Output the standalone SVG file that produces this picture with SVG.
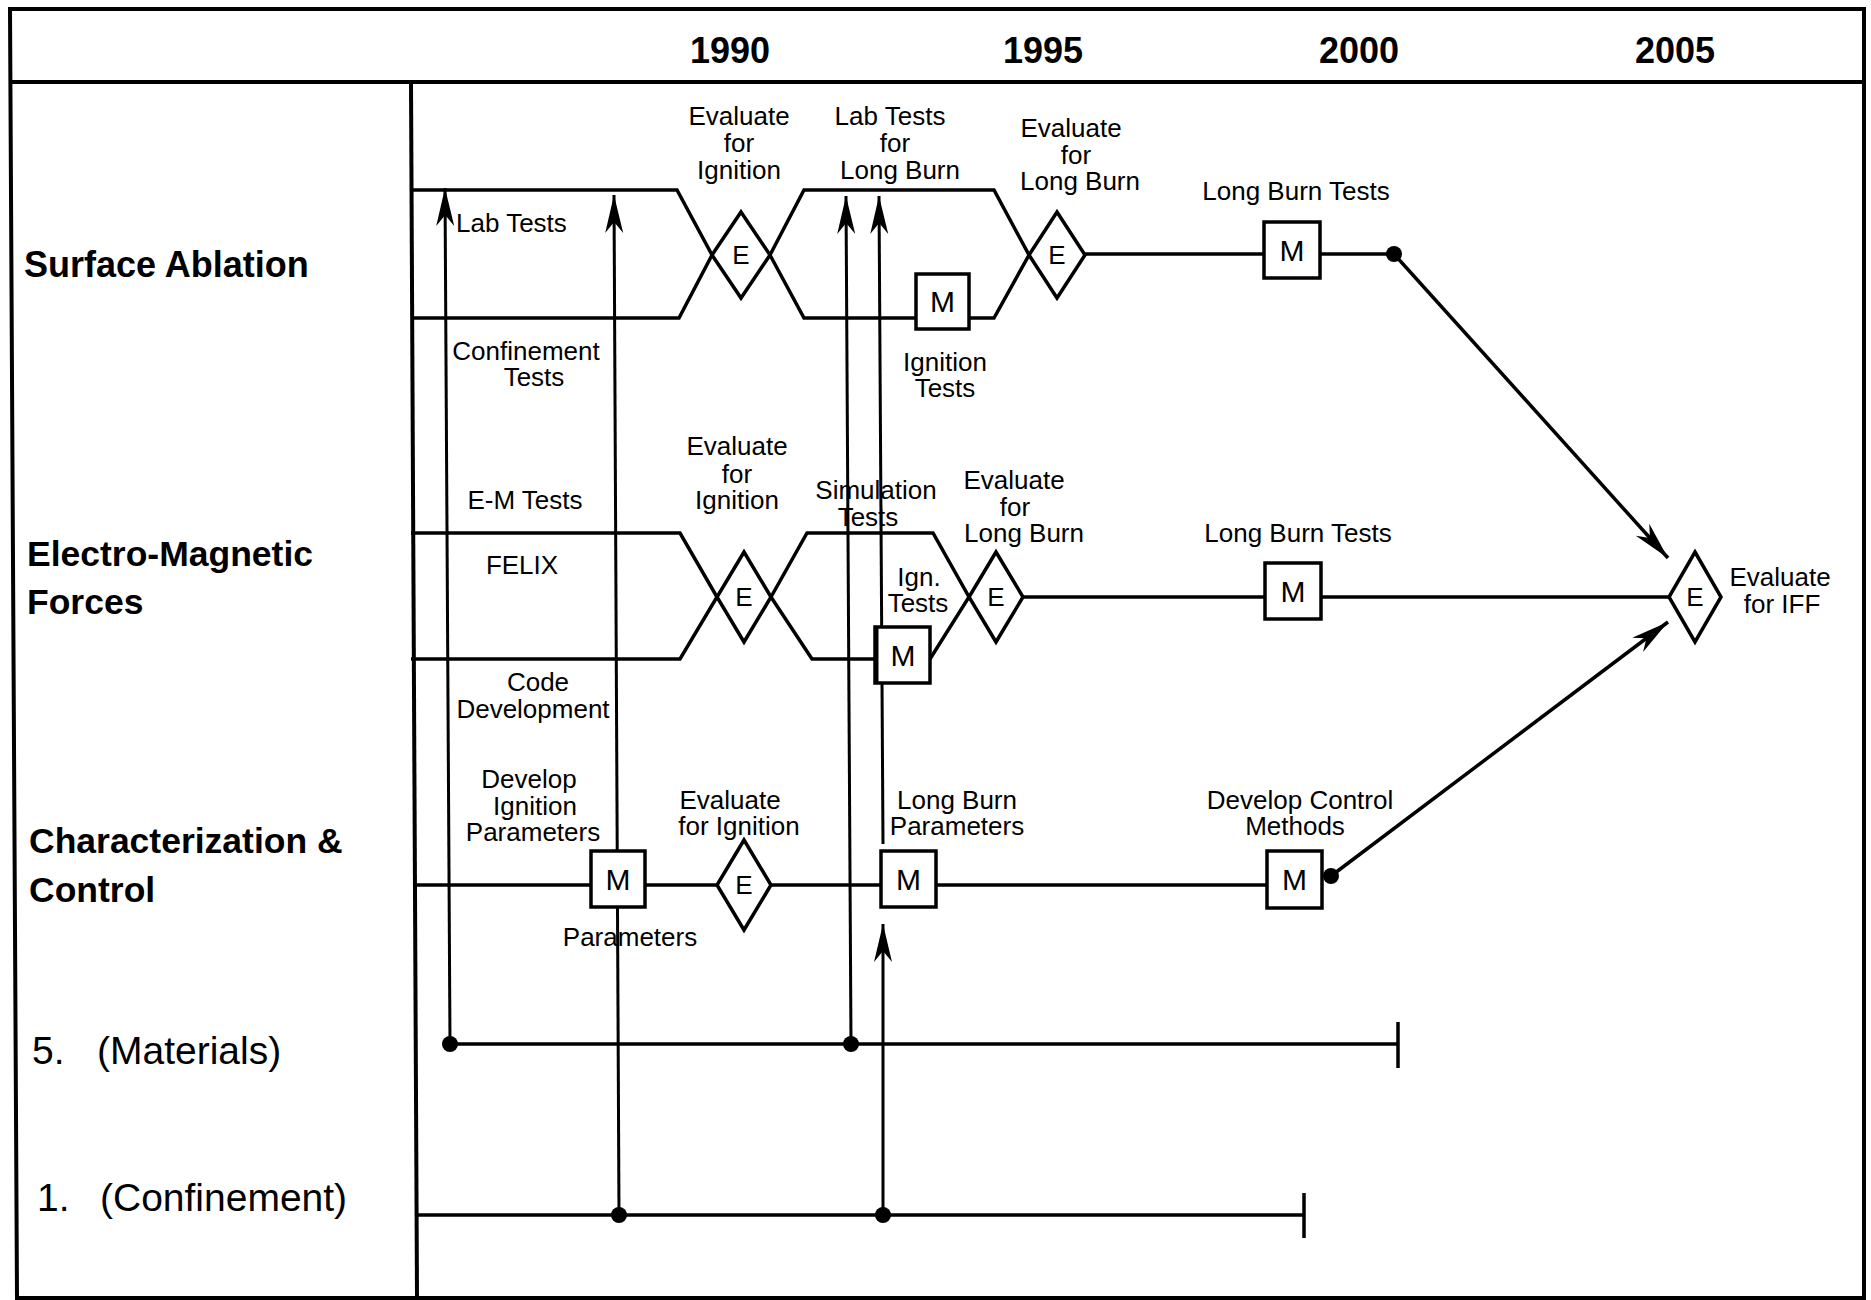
<svg xmlns="http://www.w3.org/2000/svg" width="1871" height="1300" viewBox="0 0 1871 1300">
<style>
text{font-family:"Liberation Sans",Arial,sans-serif;fill:#000}
.yr{font-size:36px;font-weight:bold;text-anchor:middle}
.row{font-size:35.5px;font-weight:bold}
.cat{font-size:39px}
.lbl{font-size:26px;text-anchor:middle}
.st{font-size:26px}
.frame{fill:none;stroke:#000;stroke-width:4}
.trk{fill:none;stroke:#000;stroke-width:3.5;stroke-linejoin:miter}
.vl{fill:none;stroke:#000;stroke-width:3}
.nd{fill:#fff;stroke:#000;stroke-width:3.5}
.ne{font-size:26px;text-anchor:middle}
.nm{font-size:30px;text-anchor:middle}
</style>
<defs>
<marker id="arr" viewBox="-40 -10 42 20" refX="0" refY="0" markerWidth="42" markerHeight="20" markerUnits="userSpaceOnUse" orient="auto">
<path d="M0,0 L-38,-9 L-27,0 L-38,9 Z" fill="#000"/>
</marker>
</defs>
<rect width="1871" height="1300" fill="#fff"/>
<g id="frame">
<path class="frame" d="M10,9 H1864 V1298 H17 Z"/>
<line class="frame" x1="10" y1="82" x2="1864" y2="82"/>
<line class="frame" x1="411" y1="82" x2="417" y2="1298"/>
</g>
<g id="years">
<text class="yr" x="730" y="63">1990</text>
<text class="yr" x="1043" y="63">1995</text>
<text class="yr" x="1359" y="63">2000</text>
<text class="yr" x="1675" y="63">2005</text>
</g>
<g id="rows">
<text class="row" x="24" y="277" style="font-size:36px">Surface Ablation</text>
<text class="row" x="27" y="566">Electro-Magnetic</text>
<text class="row" x="27" y="614">Forces</text>
<text class="row" x="29" y="853">Characterization &amp;</text>
<text class="row" x="29" y="902">Control</text>
<text class="cat" x="32" y="1064">5.</text>
<text class="cat" x="97" y="1064">(Materials)</text>
<text class="cat" x="37" y="1211">1.</text>
<text class="cat" x="100" y="1211">(Confinement)</text>
</g>
<g id="connectors">
<path class="trk" d="M411,190 H677 L712,255 L679,318 H411"/>
<path class="trk" d="M770,255 L804,190 H994 L1029,255 L994,318 H969"/>
<path class="trk" d="M770,255 L804,318 H916"/>
<path class="trk" d="M1085,254 H1264"/>
<path class="trk" d="M1320,254 H1394"/>
<line class="trk" x1="1394" y1="254" x2="1668" y2="558" marker-end="url(#arr)"/>
<path class="trk" d="M411,533 H680 L717,597 L680,659 H411"/>
<path class="trk" d="M771,597 L807,533 H933 L969,597 L930,659"/>
<path class="trk" d="M771,597 L812,659 H875"/>
<path class="trk" d="M1023,597 H1265"/>
<path class="trk" d="M1321,597 H1669"/>
<path class="trk" d="M414,885 H591"/>
<path class="trk" d="M645,885 H717"/>
<path class="trk" d="M771,885 H881"/>
<path class="trk" d="M936,885 H1267"/>
<line class="trk" x1="1331" y1="876" x2="1668" y2="622" marker-end="url(#arr)"/>
<path class="trk" d="M450,1044 H1398 M1398,1022 V1068"/>
<path class="trk" d="M416,1215 H1304 M1304,1193 V1238"/>
<line class="vl" x1="450" y1="1044" x2="445" y2="188" marker-end="url(#arr)"/>
<line class="vl" x1="619" y1="1215" x2="614" y2="195" marker-end="url(#arr)"/>
<line class="vl" x1="851" y1="1044" x2="846" y2="196" marker-end="url(#arr)"/>
<line class="vl" x1="883" y1="844" x2="879" y2="196" marker-end="url(#arr)"/>
<line class="vl" x1="883" y1="1215" x2="883" y2="924" marker-end="url(#arr)"/>
<circle cx="1394" cy="254" r="8"/>
<circle cx="1331" cy="876" r="8"/>
<circle cx="450" cy="1044" r="8"/>
<circle cx="851" cy="1044" r="8"/>
<circle cx="619" cy="1215" r="8"/>
<circle cx="883" cy="1215" r="8"/>
</g>
<g id="sa-e1"><path class="nd" d="M741,212 L770,255 L741,298 L712,255 Z"/><text class="ne" x="741" y="264">E</text></g>
<g id="sa-m1"><rect class="nd" x="916" y="274" width="53" height="55"/><text class="nm" x="942.5" y="312">M</text></g>
<g id="sa-e2"><path class="nd" d="M1057,212 L1085,255 L1057,298 L1029,255 Z"/><text class="ne" x="1057" y="264">E</text></g>
<g id="sa-m2"><rect class="nd" x="1264" y="222" width="56" height="56"/><text class="nm" x="1292" y="261">M</text></g>
<g id="em-e1"><path class="nd" d="M744,552 L771,597 L744,642 L717,597 Z"/><text class="ne" x="744" y="606">E</text></g>
<g id="em-m1"><rect class="nd" x="875" y="627" width="55" height="56"/><line class="vl" x1="877" y1="627" x2="877" y2="683" stroke-width="5"/><text class="nm" x="903" y="666">M</text></g>
<g id="em-e2"><path class="nd" d="M996,552 L1023,597 L996,642 L969,597 Z"/><text class="ne" x="996" y="606">E</text></g>
<g id="em-m2"><rect class="nd" x="1265" y="563" width="56" height="56"/><text class="nm" x="1293" y="602">M</text></g>
<g id="em-e3"><path class="nd" d="M1695,552 L1721,597 L1695,642 L1669,597 Z"/><text class="ne" x="1695" y="606">E</text></g>
<g id="cc-m1"><rect class="nd" x="591" y="851" width="54" height="56"/><text class="nm" x="618" y="890">M</text></g>
<g id="cc-e1"><path class="nd" d="M744,840 L771,885 L744,930 L717,885 Z"/><text class="ne" x="744" y="894">E</text></g>
<g id="cc-m2"><rect class="nd" x="881" y="851" width="55" height="56"/><text class="nm" x="908.5" y="890">M</text></g>
<g id="cc-m3"><rect class="nd" x="1267" y="851" width="55" height="57"/><text class="nm" x="1294.5" y="890">M</text></g>
<g id="labels">
<text class="lbl" x="739" y="125">Evaluate</text>
<text class="lbl" x="739" y="152">for</text>
<text class="lbl" x="739" y="179">Ignition</text>
<text class="lbl" x="890" y="125">Lab Tests</text>
<text class="lbl" x="895" y="152">for</text>
<text class="lbl" x="900" y="179">Long Burn</text>
<text class="lbl" x="1071" y="137">Evaluate</text>
<text class="lbl" x="1076" y="164">for</text>
<text class="lbl" x="1080" y="190">Long Burn</text>
<text class="lbl" x="1296" y="200">Long Burn Tests</text>
<text class="st" x="456" y="232">Lab Tests</text>
<text class="lbl" x="526" y="360">Confinement</text>
<text class="lbl" x="534" y="386">Tests</text>
<text class="lbl" x="945" y="371">Ignition</text>
<text class="lbl" x="945" y="397">Tests</text>
<text class="lbl" x="525" y="509">E-M Tests</text>
<text class="lbl" x="522" y="574">FELIX</text>
<text class="lbl" x="538" y="691">Code</text>
<text class="lbl" x="533" y="718">Development</text>
<text class="lbl" x="737" y="455">Evaluate</text>
<text class="lbl" x="737" y="483">for</text>
<text class="lbl" x="737" y="509">Ignition</text>
<text class="lbl" x="876" y="499">Simulation</text>
<text class="lbl" x="868" y="526">Tests</text>
<text class="lbl" x="1014" y="489">Evaluate</text>
<text class="lbl" x="1015" y="516">for</text>
<text class="lbl" x="1024" y="542">Long Burn</text>
<text class="lbl" x="919" y="586">Ign.</text>
<text class="lbl" x="918" y="612">Tests</text>
<text class="lbl" x="1298" y="542">Long Burn Tests</text>
<text class="lbl" x="1780" y="586">Evaluate</text>
<text class="lbl" x="1782" y="613">for IFF</text>
<text class="lbl" x="529" y="788">Develop</text>
<text class="lbl" x="535" y="815">Ignition</text>
<text class="lbl" x="533" y="841">Parameters</text>
<text class="lbl" x="730" y="809">Evaluate</text>
<text class="lbl" x="739" y="835">for Ignition</text>
<text class="lbl" x="957" y="809">Long Burn</text>
<text class="lbl" x="957" y="835">Parameters</text>
<text class="lbl" x="1300" y="809">Develop Control</text>
<text class="lbl" x="1295" y="835">Methods</text>
<text class="lbl" x="630" y="946">Parameters</text>
</g>
</svg>
